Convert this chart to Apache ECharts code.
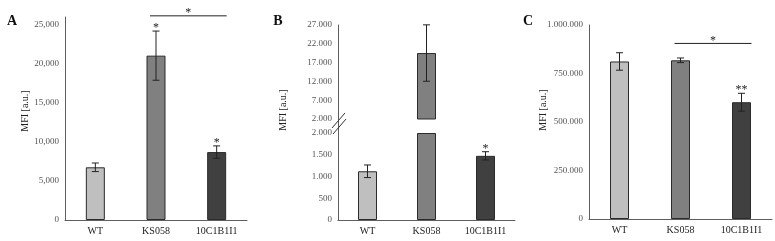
<!DOCTYPE html>
<html>
<head>
<meta charset="utf-8">
<script src="https://cdn.jsdelivr.net/npm/echarts@6/dist/echarts.min.js"></script>
<style>
  html, body { margin: 0; padding: 0; background: #fff; }
  #chart { width: 775px; height: 241px; }
</style>
</head>
<body>
<div id="chart"></div>
<script>
// categories (same for all three panels)
const categories = ["WT", "KS058", "10C1B1I1"];
const barColors = ["#bfbfbf", "#808080", "#404040"];

// panel A: mean and error
const meanA = [6750, 21050, 8700];
const errA = [550, 3150, 790];
const starsA = ["", "*", "*"];
const bracketA = [[1, 2, 26150, "*"]];

// panel B (broken axis at 2.000)
const meanB = [1120, 19540, 1475];
const errB = [145, 7500, 95];
const starsB = ["", "", "*"];
const breakB = 2000;

// panel C
const meanC = [812000, 818000, 602000];
const errC = [45000, 12000, 46000];
const starsC = ["", "", "**"];
const bracketC = [[1, 2, 905000, "*"]];

// y axis ticks
const ticksA = { min: 0, max: 26000, interval: 5000 };
const ticksBlow = { min: 0, max: 2000, interval: 500 };
const ticksBup = { min: 2000, max: 27000, interval: 5000 };
const ticksC = { min: 0, max: 1000000, interval: 250000 };

const yName = "MFI [a.u.]";
const FONT = "Liberation Serif";
const AXIS_COLOR = "#5e5e5e";

const fmtComma = (v) => v.toLocaleString("en-US");
const fmtDot = (v) => v.toLocaleString("en-US").replace(/,/g, ".");

const chart = echarts.init(document.getElementById("chart"));

// grids: A, B lower, B upper, C
const grids = [
  { left: 65, top: 17, width: 182, height: 203 },
  { left: 338, top: 133, width: 177, height: 87 },
  { left: 338, top: 25, width: 177, height: 94 },
  { left: 589, top: 25, width: 183, height: 194 },
].map((g) => Object.assign({ outerBoundsMode: "none", containLabel: false }, g));

const xAxisBase = (i, showLabels) => ({
  type: "category",
  gridIndex: i,
  data: categories,
  axisTick: { show: false },
  axisLine: { show: showLabels, lineStyle: { color: AXIS_COLOR, width: 1 } },
  axisLabel: {
    show: showLabels,
    margin: 6,
    fontFamily: FONT,
    fontSize: 10,
    color: "#222",
  },
});

const yAxisBase = (i, ticks, fmt, showMax) => ({
  type: "value",
  gridIndex: i,
  min: ticks.min,
  max: ticks.max,
  interval: ticks.interval,
  splitLine: { show: false },
  axisTick: { show: false },
  axisLine: { show: true, lineStyle: { color: AXIS_COLOR, width: 1 } },
  axisLabel: {
    margin: 6,
    fontFamily: FONT,
    fontSize: 9,
    color: "#555",
    showMaxLabel: showMax,
    formatter: fmt,
  },
});

// bars
const barSeries = (i, values) => ({
  type: "bar",
  xAxisIndex: i,
  yAxisIndex: i,
  barWidth: 19,
  data: values.map((v, k) => ({
    value: v,
    itemStyle: { color: barColors[k], borderColor: "#2b2b2b", borderWidth: 1 },
  })),
  animation: false,
  z: 2,
});

// error bars drawn through axis coords
function errorItem(params, api) {
  const x = api.value(0);
  const y = api.value(1);
  const e = api.value(2);
  const hi = api.coord([x, y + e]);
  const lo = api.coord([x, y - e]);
  const w = 3.5;
  const st = { stroke: "#222", lineWidth: 1 };
  return {
    type: "group",
    children: [
      { type: "line", shape: { x1: hi[0], y1: hi[1], x2: lo[0], y2: lo[1] }, style: st },
      { type: "line", shape: { x1: hi[0] - w, y1: hi[1], x2: hi[0] + w, y2: hi[1] }, style: st },
      { type: "line", shape: { x1: lo[0] - w, y1: lo[1], x2: lo[0] + w, y2: lo[1] }, style: st },
    ],
  };
}
const errorSeries = (i, rows) => ({
  type: "custom",
  xAxisIndex: i,
  yAxisIndex: i,
  renderItem: errorItem,
  data: rows,
  clip: false,
  z: 5,
  animation: false,
});

// stars above error bars
function starItem(params, api) {
  const p = api.coord([api.value(0), api.value(1) + api.value(2)]);
  return {
    type: "text",
    x: p[0],
    y: p[1] + 3,
    style: {
      text: api.value(3),
      font: "12px '" + FONT + "'",
      fill: "#222",
      textAlign: "center",
      textVerticalAlign: "bottom",
    },
  };
}
const starSeries = (i, mean, err, stars) => ({
  type: "custom",
  xAxisIndex: i,
  yAxisIndex: i,
  renderItem: starItem,
  dimensions: ["x", "y", "e", { name: "s", type: "ordinal" }],
  data: stars
    .map((s, k) => [k, mean[k], err[k], s])
    .filter((r) => r[3] !== ""),
  clip: false,
  z: 6,
  animation: false,
});

// significance bracket between two bars
function bracketItem(params, api) {
  const a = api.coord([api.value(0), api.value(2)]);
  const b = api.coord([api.value(1), api.value(2)]);
  const x1 = a[0] - 6;
  const x2 = b[0] + 10;
  return {
    type: "group",
    children: [
      { type: "line", shape: { x1: x1, y1: a[1], x2: x2, y2: a[1] }, style: { stroke: "#222", lineWidth: 1 } },
      {
        type: "text",
        x: (x1 + x2) / 2,
        y: a[1] + 3,
        style: { text: api.value(3), font: "12px '" + FONT + "'", fill: "#222", textAlign: "center", textVerticalAlign: "bottom" },
      },
    ],
  };
}
const bracketSeries = (i, rows) => ({
  type: "custom",
  xAxisIndex: i,
  yAxisIndex: i,
  renderItem: bracketItem,
  dimensions: ["a", "b", "y", { name: "s", type: "ordinal" }],
  data: rows,
  clip: false,
  z: 6,
  animation: false,
});

// split panel B values around the break
const lowB = meanB.map((v) => Math.min(v, breakB));
const upB = meanB.map((v) => (v > breakB ? v : "-"));
const errLowB = meanB.map((v, k) => [k, v, errB[k]]).filter((r) => r[1] <= breakB);
const errUpB = meanB.map((v, k) => [k, v, errB[k]]).filter((r) => r[1] > breakB);

const letter = (t, x) => ({
  type: "text", x: x, y: 21,
  style: { text: t, font: "bold 14px '" + FONT + "'", fill: "#111", textAlign: "center", textVerticalAlign: "middle" },
});
const axisName = (x, y) => ({
  type: "text", x: x, y: y, rotation: Math.PI / 2,
  style: { text: yName, font: "10px '" + FONT + "'", fill: "#222", textAlign: "center", textVerticalAlign: "middle" },
});

const option = {
  animation: false,
  grid: grids,
  xAxis: [xAxisBase(0, true), xAxisBase(1, true), xAxisBase(2, false), xAxisBase(3, true)],
  yAxis: [
    yAxisBase(0, ticksA, fmtComma, false),
    yAxisBase(1, ticksBlow, fmtDot, true),
    yAxisBase(2, ticksBup, fmtDot, true),
    yAxisBase(3, ticksC, fmtDot, true),
  ],
  series: [
    barSeries(0, meanA),
    errorSeries(0, meanA.map((v, k) => [k, v, errA[k]])),
    starSeries(0, meanA, errA, starsA),
    bracketSeries(0, bracketA),

    barSeries(1, lowB),
    errorSeries(1, errLowB),
    starSeries(1, meanB, errB, starsB),
    barSeries(2, upB),
    errorSeries(2, errUpB),

    barSeries(3, meanC),
    errorSeries(3, meanC.map((v, k) => [k, v, errC[k]])),
    starSeries(3, meanC, errC, starsC),
    bracketSeries(3, bracketC),
  ],
  graphic: [
    letter("A", 12),
    letter("B", 278),
    letter("C", 528),
    axisName(25, 111),
    axisName(283, 110),
    axisName(543, 110),
    // axis between the two segments of B and the break marks
    { type: "line", shape: { x1: 338.5, y1: 119, x2: 338.5, y2: 133 }, style: { stroke: AXIS_COLOR, lineWidth: 1 } },
    { type: "line", shape: { x1: 332, y1: 128, x2: 345, y2: 113 }, style: { stroke: "#333", lineWidth: 1 } },
    { type: "line", shape: { x1: 333, y1: 134, x2: 346, y2: 119 }, style: { stroke: "#333", lineWidth: 1 } },
  ],
};

chart.setOption(option);
</script>
</body>
</html>
